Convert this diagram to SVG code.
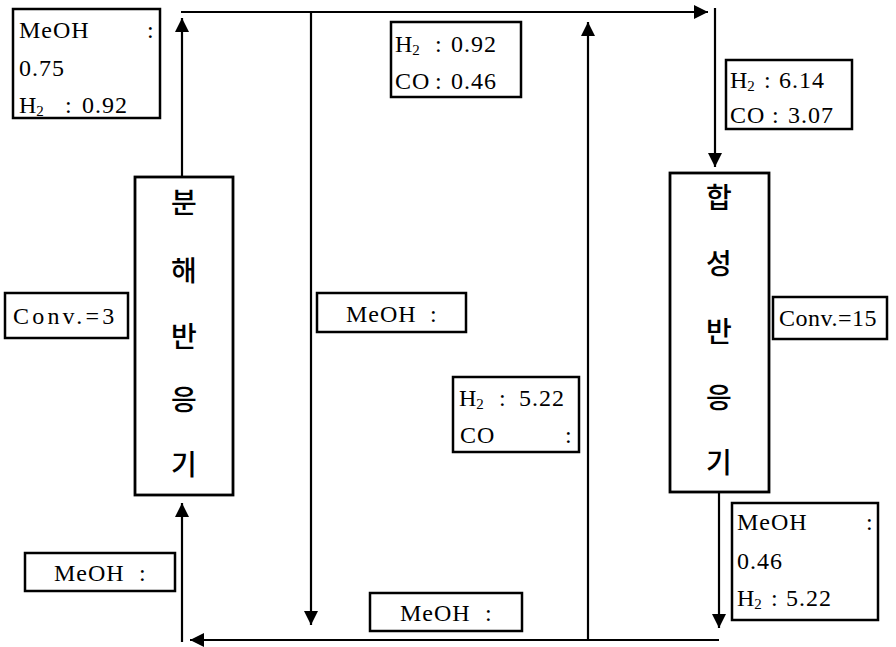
<svg xmlns="http://www.w3.org/2000/svg" width="896" height="647" viewBox="0 0 896 647">
<style>
.box{fill:#fff;stroke:#000;stroke-width:2.5}
.rx{fill:#fff;stroke:#000;stroke-width:2.8}
.t{font-family:"Liberation Serif","Times New Roman",serif;font-size:24px;letter-spacing:1px;fill:#000}
.s{font-size:15px}
.k{font-family:"Noto Sans CJK KR",sans-serif;font-size:28px;font-weight:500;fill:#000;text-anchor:middle}
.ln{fill:none;stroke:#000;stroke-width:2.2}
</style>
<defs>
<marker id="ah" markerUnits="userSpaceOnUse" markerWidth="14" markerHeight="14" refX="14" refY="7" orient="auto">
<path d="M0,0 L14,7 L0,14 Z" fill="#000"/>
</marker>
</defs>
<rect width="896" height="647" fill="#fff"/>
<g id="connectors">
<path class="ln" d="M182,177 L182,18" marker-end="url(#ah)"/>
<path class="ln" d="M181,12 L708,12" marker-end="url(#ah)"/>
<path class="ln" d="M311,12 L311,625" marker-end="url(#ah)"/>
<path class="ln" d="M715,8 L715,167" marker-end="url(#ah)"/>
<path class="ln" d="M719,492 L719,628" marker-end="url(#ah)"/>
<path class="ln" d="M719,640 L190,640" marker-end="url(#ah)"/>
<path class="ln" d="M588,640 L588,22" marker-end="url(#ah)"/>
<path class="ln" d="M182,642 L182,503" marker-end="url(#ah)"/>
</g>
<g id="decomposition-reactor">
<rect class="rx" x="135" y="177" width="98" height="318"/>
<text class="k" x="184" y="213">분</text>
<text class="k" x="184" y="281">해</text>
<text class="k" x="184" y="347">반</text>
<text class="k" x="184" y="410">응</text>
<text class="k" x="184" y="475">기</text>
</g>
<g id="synthesis-reactor">
<rect class="rx" x="670" y="173" width="99" height="319"/>
<text class="k" x="719" y="208">합</text>
<text class="k" x="719" y="274">성</text>
<text class="k" x="719" y="342">반</text>
<text class="k" x="719" y="408">응</text>
<text class="k" x="719" y="473">기</text>
</g>
<g id="label-top-left">
<rect class="box" x="13" y="9" width="147" height="109"/>
<text class="t" x="19" y="38">MeOH</text>
<text class="t" x="147" y="38">:</text>
<text class="t" x="19" y="76">0.75</text>
<text class="t" x="19" y="113">H<tspan class="s" dx="-1" dy="3">2</tspan></text>
<text class="t" x="65" y="113">:</text>
<text class="t" x="82" y="113">0.92</text>
</g>
<g id="label-recycle-h2co">
<rect class="box" x="391" y="22" width="130" height="75"/>
<text class="t" x="395" y="52">H<tspan class="s" dx="-1" dy="3">2</tspan></text>
<text class="t" x="435" y="52">:</text>
<text class="t" x="451" y="52">0.92</text>
<text class="t" x="395" y="89">CO</text>
<text class="t" x="435" y="89">:</text>
<text class="t" x="451" y="89">0.46</text>
</g>
<g id="label-feed-synthesis">
<rect class="box" x="726" y="60" width="126" height="69"/>
<text class="t" x="730" y="88">H<tspan class="s" dx="-1" dy="3">2</tspan></text>
<text class="t" x="764" y="88">:</text>
<text class="t" x="779" y="88">6.14</text>
<text class="t" x="730" y="123">CO</text>
<text class="t" x="772" y="123">:</text>
<text class="t" x="788" y="123">3.07</text>
</g>
<g id="label-conv3">
<rect class="box" x="5" y="293" width="123" height="45"/>
<text class="t" x="13" y="324" style="letter-spacing:3.2px">Conv.=3</text>
</g>
<g id="label-conv15">
<rect class="box" x="773" y="297" width="114" height="42"/>
<text class="t" x="779" y="326" style="letter-spacing:0.5px">Conv.=15</text>
</g>
<g id="label-meoh-mid">
<rect class="box" x="317" y="293" width="149" height="39"/>
<text class="t" x="346" y="322">MeOH</text>
<text class="t" x="430" y="322">:</text>
</g>
<g id="label-h2co-mid">
<rect class="box" x="453" y="377" width="126" height="75"/>
<text class="t" x="459" y="406">H<tspan class="s" dx="-1" dy="3">2</tspan></text>
<text class="t" x="499" y="406">:</text>
<text class="t" x="519" y="406">5.22</text>
<text class="t" x="460" y="443">CO</text>
<text class="t" x="565" y="443">:</text>
</g>
<g id="label-meoh-left">
<rect class="box" x="25" y="553" width="150" height="38"/>
<text class="t" x="54" y="581">MeOH</text>
<text class="t" x="139" y="581">:</text>
</g>
<g id="label-meoh-bottom">
<rect class="box" x="370" y="593" width="152" height="38"/>
<text class="t" x="400" y="621">MeOH</text>
<text class="t" x="485" y="621">:</text>
</g>
<g id="label-product">
<rect class="box" x="732" y="503" width="146" height="117"/>
<text class="t" x="737" y="530">MeOH</text>
<text class="t" x="866" y="530">:</text>
<text class="t" x="737" y="569">0.46</text>
<text class="t" x="737" y="606">H<tspan class="s" dx="-1" dy="3">2</tspan></text>
<text class="t" x="771" y="606">:</text>
<text class="t" x="786" y="606">5.22</text>
</g>
</svg>
